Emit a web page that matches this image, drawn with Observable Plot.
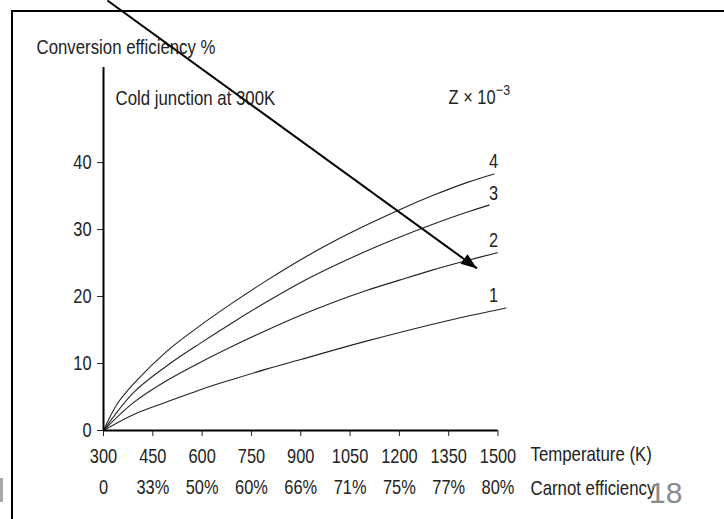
<!DOCTYPE html>
<html><head><meta charset="utf-8">
<script src="https://cdn.jsdelivr.net/npm/d3@7"></script>
<script src="https://cdn.jsdelivr.net/npm/@observablehq/plot@0.6"></script>
<style>
html,body{margin:0;padding:0;background:#fff;overflow:hidden;width:724px;height:519px;}
#wrap{position:relative;width:724px;height:519px;overflow:hidden;}
#frame{position:absolute;left:11px;top:10px;width:900px;height:700px;border-left:2px solid #000;border-top:2px solid #000;}
#bar{position:absolute;left:0;top:478px;width:3px;height:24px;background:#a8a8a8;}
#chart{position:absolute;left:0;top:0;}
</style></head><body>
<div id="wrap"><div id="frame"></div><div id="bar"></div><div id="chart"></div></div>
<script>
// ---- data ----
const xTicks = [300, 450, 600, 750, 900, 1050, 1200, 1350, 1500];
const carnotLabels = ["0", "33%", "50%", "60%", "66%", "71%", "75%", "77%", "80%"];
const yTicks = [0, 10, 20, 30, 40];

const zLabels = ["1", "2", "3", "4"];
const curve1T = [300, 392, 494, 595, 697, 798, 900, 1088, 1346, 1524];
const curve1V = [0, 2.4, 4.3, 6.1, 7.7, 9.2, 10.6, 13.2, 16.4, 18.3];
const curve2T = [300, 392, 494, 595, 697, 798, 900, 1000, 1100, 1200, 1300, 1400, 1498];
const curve2V = [0, 4.2, 7.5, 10.2, 12.7, 15.0, 17.2, 19.15, 20.9, 22.45, 23.95, 25.3, 26.55];
const curve3T = [300, 392, 494, 595, 697, 798, 900, 1000, 1100, 1200, 1300, 1400, 1473];
const curve3V = [0, 5.7, 9.7, 13.05, 16.25, 19.25, 22.1, 24.55, 26.8, 28.85, 30.75, 32.5, 33.65];
const curve4T = [300, 342, 392, 494, 595, 697, 798, 900, 1001, 1103, 1204, 1305, 1407, 1488];
const curve4V = [0, 4.0, 7.0, 11.9, 15.7, 19.2, 22.45, 25.5, 28.25, 30.75, 33.05, 35.15, 37.05, 38.3];

const xDomain = [300, 1500];
const yDomain = [0, 54.2];

const yTitle = "Conversion efficiency %";
const note = "Cold junction at 300K";
const zTitle = "Z \u00d7 10";
const zExp = "\u22123";
const xTitle = "Temperature (K)";
const x2Title = "Carnot efficiency";
const pageNo = "18";

// annotation arrow (data coordinates)
const arrowX = [312, 1436];
const arrowY = [64.2, 24.2];

// ---- build ----
const curvesT = [curve1T, curve2T, curve3T, curve4T];
const curvesV = [curve1V, curve2V, curve3V, curve4V];
const rows = zLabels.flatMap((z, k) => curvesT[k].map((t, i) => ({z, x: t, y: curvesV[k][i]})));
const arrow = [{x1: arrowX[0], y1: arrowY[0], x2: arrowX[1], y2: arrowY[1]}];

const font = '"Liberation Sans", Arial, Helvetica, sans-serif';
const ink = "#222";
const M = "middle";

const plot = Plot.plot({
  width: 724, height: 519,
  marginLeft: 103, marginRight: 226.5, marginTop: 67, marginBottom: 89,
  style: {fontFamily: font, fontSize: "20px", color: ink, background: "transparent", overflow: "visible"},
  x: {domain: xDomain},
  y: {domain: yDomain},
  marks: [
    Plot.axisY({ticks: yTicks, tickSize: 6, tickPadding: 6, label: null, fontSize: 20}),
    Plot.axisX({ticks: xTicks, tickSize: 6, tickPadding: 12, label: null, fontSize: 20, tickFormat: d => String(d)}),
    Plot.axisX({ticks: xTicks, tickSize: 0, tickPadding: 49, label: null, fontSize: 20, tickFormat: d => carnotLabels[xTicks.indexOf(d)]}),
    Plot.line(rows, {x: "x", y: "y", z: "z", curve: "catmull-rom", stroke: ink, strokeWidth: 1.1}),
    Plot.text(rows, Plot.selectLast({x: () => xDomain[1], y: "y", z: "z", text: "z", textAnchor: "end", lineAnchor: M, dy: -12, fontSize: 20, fill: ink})),
    Plot.ruleX([xDomain[0]], {stroke: "#000", strokeWidth: 2}),
    Plot.ruleY([yDomain[0]], {stroke: "#000", strokeWidth: 2}),
    Plot.text([yTitle], {text: d => d, frameAnchor: "top-left", textAnchor: "start", lineAnchor: M, dx: -67, dy: -20, fontSize: 20.5, fill: ink}),
    Plot.text([note], {text: d => d, frameAnchor: "top-left", textAnchor: "start", lineAnchor: M, dx: 12, dy: 31, fontSize: 20.5, fill: ink}),
    Plot.text([zTitle], {text: d => d, frameAnchor: "top-right", textAnchor: "end", lineAnchor: M, dx: -2.5, dy: 30, fontSize: 20, fill: ink}),
    Plot.text([zExp], {text: d => d, frameAnchor: "top-right", textAnchor: "start", lineAnchor: M, dx: -2, dy: 23, fontSize: 15, fill: ink}),
    Plot.text([xTitle], {text: d => d, frameAnchor: "bottom-right", textAnchor: "start", lineAnchor: M, dx: 32.5, dy: 24, fontSize: 20.5, fill: ink}),
    Plot.text([x2Title], {text: d => d, frameAnchor: "bottom-right", textAnchor: "start", lineAnchor: M, dx: 32.5, dy: 57.5, fontSize: 20.5, fill: ink}),
    Plot.text([pageNo], {text: d => d, frameAnchor: "bottom-right", textAnchor: "start", lineAnchor: M, dx: 151, dy: 62.5, fontSize: 30, fill: "#8a8a8a"}),
    Plot.link(arrow, {x1: "x1", y1: "y1", x2: "x2", y2: "y2", stroke: "#000", strokeWidth: 2}),
    Plot.vector(arrow, {x: "x2", y: "y2", length: 16, r: 6, rotate: 126, shape: "spike", anchor: "end", fill: "#000", stroke: "none"})
  ]
});
// narrow (Helvetica-Narrow-like) lettering: condense every label horizontally about its anchor, except the page number
plot.querySelectorAll("text").forEach(t => {
  if (t.textContent === pageNo) return;
  const tr = t.getAttribute("transform") || "";
  t.setAttribute("transform", (tr + " scale(0.82,1)").trim());
});
document.getElementById("chart").appendChild(plot);
</script>
</body></html>
